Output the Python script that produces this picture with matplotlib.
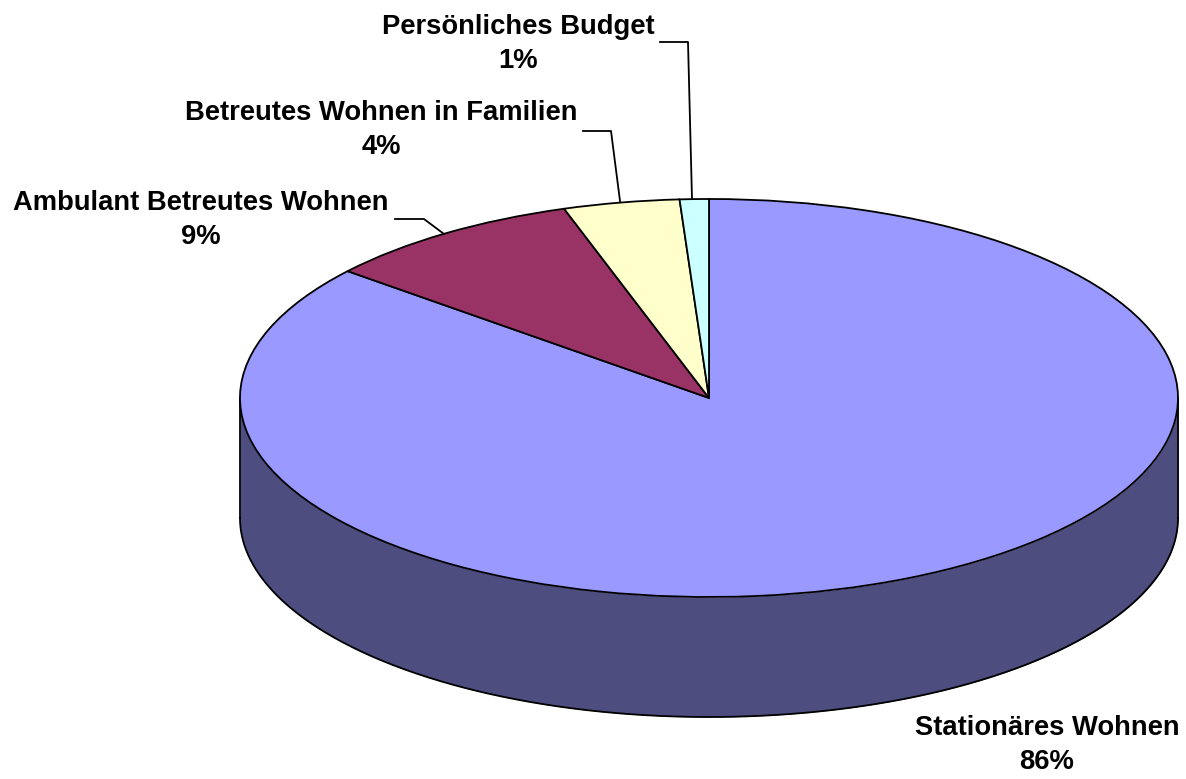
import numpy as np
import matplotlib
matplotlib.use("Agg")
import matplotlib.pyplot as plt

labels = ["Stationäres Wohnen", "Ambulant Betreutes Wohnen",
          "Betreutes Wohnen in Familien", "Persönliches Budget"]
values = [86, 9, 4, 1]
colors = ["#9999FF", "#993366", "#FFFFCC", "#CCFFFF"]
wall_color = "#4D4D80"

W, H = 1186, 779
CX, CY, RX, RY, DEPTH = 709, 398, 469, 199, 120
LINE_W = 1.3

fig = plt.figure(figsize=(W / 100, H / 100), dpi=100, facecolor="white")
ax = fig.add_axes([0, 0, 1, 1])
ax.axis("off")


def to_px(px, py):
    """Pixel position on the canvas to unit-pie coordinates."""
    return (px - CX) / RX, (CY - py) / RY


# side wall of the disc, below the front half of the rim
t = np.linspace(np.pi, 2 * np.pi, 400)
xs, ys = np.cos(t), np.sin(t)
drop = DEPTH / RY
ax.fill_between(xs, ys, ys - drop, color=wall_color, lw=0, zorder=1)
ax.plot(xs, ys - drop, color="black", lw=LINE_W, zorder=2)
for side in (-1, 1):
    ax.plot([side, side], [0, -drop], color="black", lw=LINE_W, zorder=2)

# top face
ax.pie(values, colors=colors, startangle=90, counterclock=False, radius=1,
       center=(0, 0), frame=True,
       wedgeprops=dict(edgecolor="black", linewidth=LINE_W, zorder=3))
ax.axis("off")
ax.set_aspect("auto")
ax.set_xlim(to_px(0, 0)[0], to_px(W, 0)[0])
ax.set_ylim(to_px(0, H)[1], to_px(0, 0)[1])

# data labels with leader lines
text_pos = [(1047, 745), (201, 220), (381, 130), (518, 44)]
leaders = [None,
           [(395, 219), (424, 219), (444, 234)],
           [(583, 131), (611, 131), (620, 201)],
           [(660, 42), (688, 42), (692, 199)]]
for name, val, pos, leader in zip(labels, values, text_pos, leaders):
    x, y = to_px(*pos)
    ax.text(x, y, f"{name}\n{val}%", ha="center", va="center",
            family="Liberation Sans", fontweight="bold", fontsize=19.7,
            linespacing=1.42, color="black", zorder=5)
    if leader:
        pts = [to_px(*p) for p in leader]
        ax.plot(*zip(*pts), color="black", lw=LINE_W, zorder=4)

fig.savefig("out.png", dpi=100, facecolor="white")
